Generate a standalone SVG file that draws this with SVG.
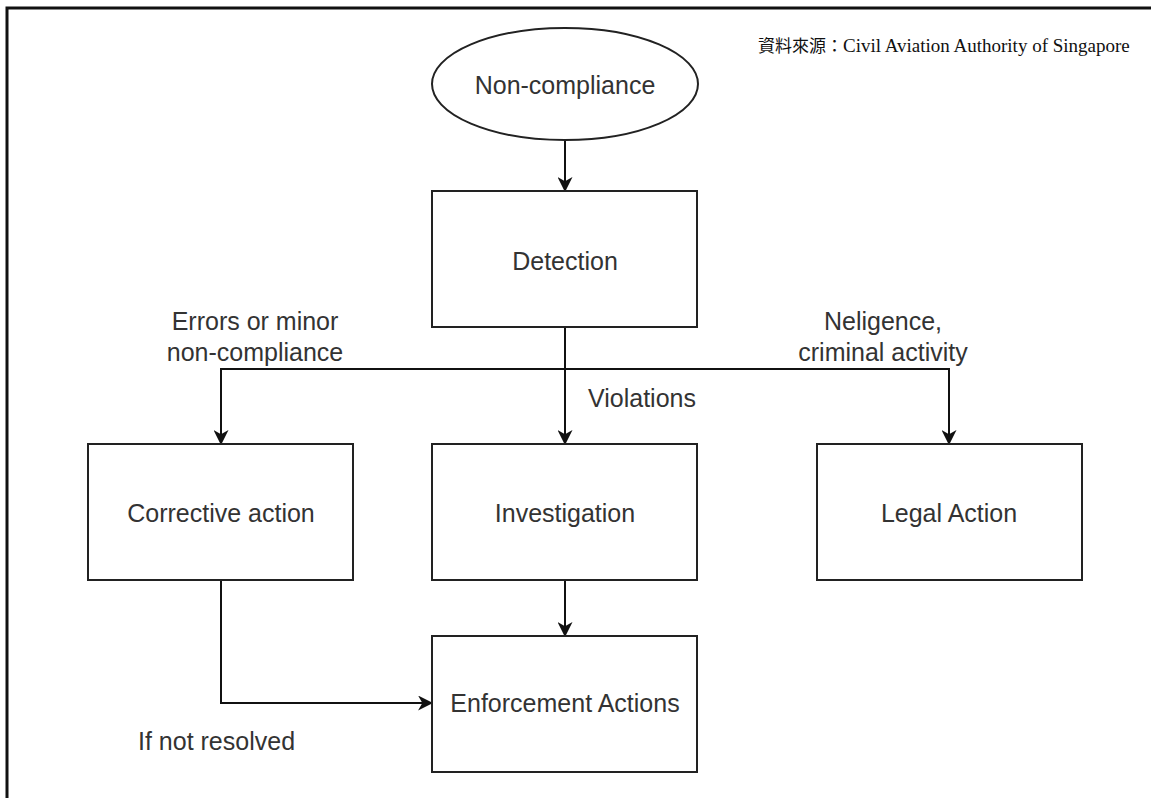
<svg xmlns="http://www.w3.org/2000/svg" width="1151" height="798" viewBox="0 0 1151 798">
  <defs>
    <marker id="arrow" viewBox="0 0 14 14" refX="13" refY="7" markerWidth="15" markerHeight="15" markerUnits="userSpaceOnUse" orient="auto">
      <path d="M0,0 L14,7 L0,14 L4,7 Z" fill="#111"/>
    </marker>
    <style>
      .frame { fill: none; stroke: #111; stroke-width: 3; }
      .shape { fill: #fff; stroke: #222; stroke-width: 2; }
      .edge { fill: none; stroke: #111; stroke-width: 2; marker-end: url(#arrow); }
      .label { font-family: "Liberation Sans", Arial, sans-serif; font-size: 25px; fill: #333; text-anchor: middle; }
      .note { font-family: "Liberation Sans", Arial, sans-serif; font-size: 25px; fill: #333; }
      .source { font-family: "Liberation Serif", "Noto Sans CJK TC", serif; fill: #111; }
    </style>
  </defs>

  <rect width="1151" height="798" fill="#fff"/>

  <!-- page frame: top and left edges only -->
  <path class="frame" d="M7,800 L7,8 L1153,8"/>

  <text class="source" x="758" y="52" font-size="17">資料來源：<tspan font-size="19">Civil Aviation Authority of Singapore</tspan></text>

  <g id="connectors">
    <path class="edge" d="M565,140 L565,191"/>
    <path class="edge" d="M565,327 L565,444"/>
    <path class="edge" d="M565,369 L221,369 L221,444"/>
    <path class="edge" d="M565,369 L949,369 L949,444"/>
    <path class="edge" d="M565,580 L565,636"/>
    <path class="edge" d="M221,580 L221,703 L432,703"/>
  </g>

  <g id="edge-labels">
    <text class="label" x="255" y="330">Errors or minor</text>
    <text class="label" x="255" y="361">non-compliance</text>
    <text class="note" x="588" y="407">Violations</text>
    <text class="label" x="883" y="330">Neligence,</text>
    <text class="label" x="883" y="361">criminal activity</text>
    <text class="note" x="138" y="750">If not resolved</text>
  </g>

  <g id="non-compliance">
    <ellipse class="shape" cx="565" cy="84" rx="133" ry="56"/>
    <text class="label" x="565" y="94">Non-compliance</text>
  </g>

  <g id="detection">
    <rect class="shape" x="432" y="191" width="265" height="136"/>
    <text class="label" x="565" y="270">Detection</text>
  </g>

  <g id="corrective-action">
    <rect class="shape" x="88" y="444" width="265" height="136"/>
    <text class="label" x="221" y="522">Corrective action</text>
  </g>

  <g id="investigation">
    <rect class="shape" x="432" y="444" width="265" height="136"/>
    <text class="label" x="565" y="522">Investigation</text>
  </g>

  <g id="legal-action">
    <rect class="shape" x="817" y="444" width="265" height="136"/>
    <text class="label" x="949" y="522">Legal Action</text>
  </g>

  <g id="enforcement-actions">
    <rect class="shape" x="432" y="636" width="265" height="136"/>
    <text class="label" x="565" y="712">Enforcement Actions</text>
  </g>
</svg>
